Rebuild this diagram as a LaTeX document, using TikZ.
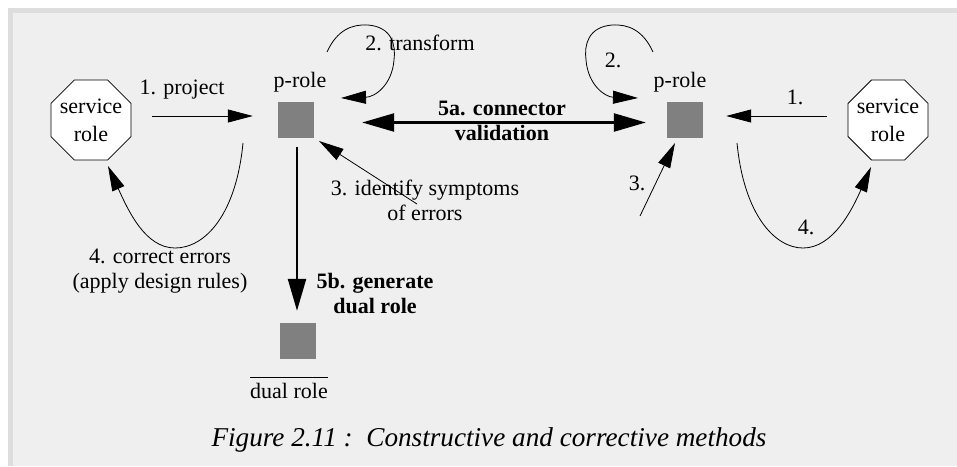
\documentclass[tikz,border=0pt]{standalone}
\usepackage{fontspec}
\setmainfont{Liberation Serif}
\usetikzlibrary{arrows.meta,shapes.geometric}
\definecolor{panel}{HTML}{EFEFEF}
\definecolor{paneledge}{HTML}{DDDDDD}
\definecolor{rolegray}{HTML}{808080}
\begin{document}
\begin{tikzpicture}[x=1pt,y=-1pt,
  every node/.style={font=\fontsize{22}{25}\selectfont, inner sep=0pt},
  lbl/.style={align=center},
  boldlbl/.style={align=center, font=\fontsize{22}{25}\selectfont\bfseries},
  svc/.style={draw, fill=white, line width=0.8pt, regular polygon, regular polygon sides=8,
              minimum size=86.6pt,
              label={[align=center, font=\fontsize{22}{28}\selectfont]center:service\\role}},
  prole/.style={fill=rolegray, minimum size=36pt},
  thin arrow/.style={line width=0.8pt, -{Triangle[length=25pt,width=13pt]}},
  thick arrow/.style={line width=2.4pt, -{Triangle[length=32pt,width=18pt]}},
  both thick/.style={line width=2.4pt, {Triangle[length=32pt,width=18pt]}-{Triangle[length=32pt,width=18pt]}}]

% panel
\useasboundingbox (0,0) rectangle (957,466);
\fill[white] (0,0) rectangle (957,466);
\fill[panel] (8,8) rectangle (957,466);
\fill[paneledge] (8,8) rectangle (957,13);
\fill[paneledge] (8,8) rectangle (13,466);

% nodes
\node[svc] (svcL) at (91,120) {};
\node[svc] (svcR) at (888,120) {};
\node[prole] (sqL) at (296,120) {};
\node[prole] (sqR) at (685,120) {};
\node[prole] (sqD) at (298,341) {};

\node (prL) at (300,82) {p-role};
\node (prR) at (680,82) {p-role};

% 1. project
\draw[thin arrow, shorten <=21pt, shorten >=25pt]
  ([yshift=4pt]svcL.east) -- ([yshift=4pt]sqL.west);
\node at (182,90) {1. project};

% 2. transform (self loop)
\coordinate (lpL) at ([shift={(31,-68)}]sqL.center);
\draw[thin arrow] (lpL) .. controls (337,30) and (352,24) .. (368,25)
  .. controls (392,27) and (396,45) .. (394,60)
  .. controls (392,85) and (375,97) .. ([shift={(45,-22)}]sqL.center);
\node at (420,43) {2. transform};

% 3. identify symptoms
\coordinate (idL) at ([shift={(121,84)}]sqL.center);
\draw[thin arrow] (idL) -- ([shift={(23,21)}]sqL.center);
\node[lbl] at (425,200) {3. identify symptoms\\of errors};

% 4. correct errors
\coordinate (ceL) at ([shift={(-53,23)}]sqL.center);
\draw[thin arrow] (ceL) .. controls (236,215) and (205,248) .. (175,248)
  .. controls (145,248) and (128,210) .. ([shift={(17,46)}]svcL.center);
\node[lbl] at (160,271) {4. correct errors\\(apply design rules)};

% 5a. connector validation
\draw[both thick, shorten <=48pt, shorten >=21pt]
  ([yshift=-2.5pt]sqL.east) -- ([yshift=-2.5pt]sqR.west);
\node[boldlbl] at (502,121) {5a. connector\\validation};

% 5b. generate dual role
\draw[thick arrow, shorten <=9pt, shorten >=12pt]
  ([xshift=1pt]sqL.south) -- ([xshift=-1pt]sqD.north);
\node[boldlbl] at (375,293) {5b. generate\\dual role};

% dual role caption with a bar above it
\node (dlbl) at (289,391) {dual role};
\draw[line width=0.8pt] ([yshift=6pt]dlbl.north west) -- ([yshift=6pt]dlbl.north east);

% right-hand side
\draw[thin arrow, shorten <=21pt, shorten >=23pt]
  ([yshift=4pt]svcR.west) -- ([yshift=4pt]sqR.east);
\node at (795,97) {1.};

\coordinate (lpR) at ([shift={(-32,-68)}]sqR.center);
\draw[thin arrow] (lpR) .. controls (643,30) and (628,24) .. (612,25)
  .. controls (588,27) and (584,45) .. (586,60)
  .. controls (588,85) and (605,97) .. ([shift={(-47,-22)}]sqR.center);
\node at (613,60) {2.};

\coordinate (idR) at ([shift={(-45,96)}]sqR.center);
\draw[thin arrow] (idR) -- ([shift={(-10,23)}]sqR.center);
\node at (637,183) {3.};

\coordinate (ceR) at ([shift={(52,23)}]sqR.center);
\draw[thin arrow] (ceR) .. controls (744,215) and (775,248) .. (803,248)
  .. controls (833,248) and (852,210) .. ([shift={(-17,47)}]svcR.center);
\node at (806,227) {4.};

% figure caption
\node[font=\fontsize{27.2}{30}\selectfont\itshape] at (489,440)
  {Figure 2.11 :\ \ Constructive and corrective methods};
\end{tikzpicture}
\end{document}
